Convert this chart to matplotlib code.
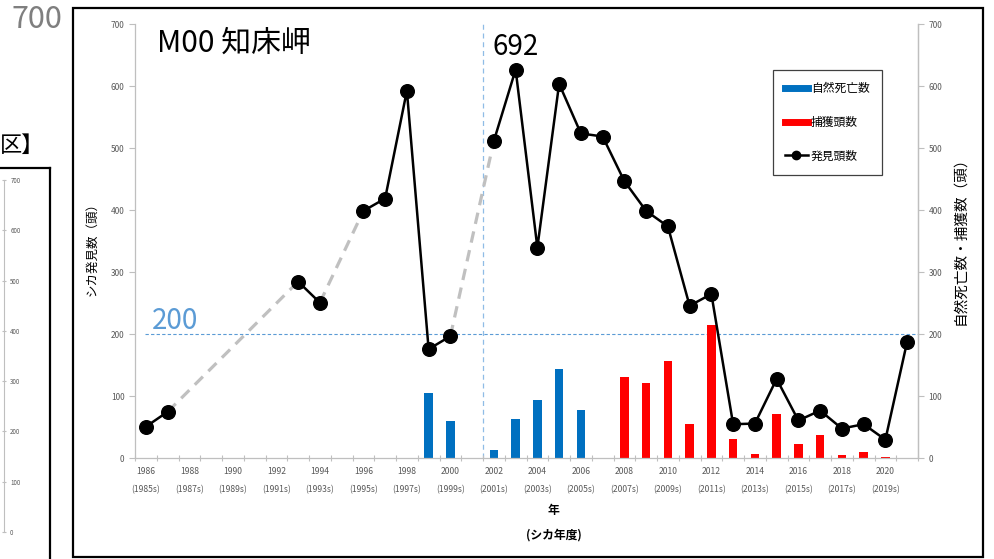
import matplotlib
matplotlib.use('Agg')
import matplotlib.pyplot as plt
import numpy as np
from matplotlib.lines import Line2D
from matplotlib.patches import Rectangle

plt.rcParams['font.family'] = ['Noto Sans CJK JP', 'DejaVu Sans']

# ---------------- data ----------------
years = list(range(1986, 2022))
found = [51, 75, None, None, None, None, None, 285, 251, None,
         399, 419, 593, 176, 197, None, 512, 627, 340, 604,
         524, 519, 447, 399, 374, 246, 265, 55, 56, 128,
         61, 77, 48, 55, 30, 188]
natural_years = [1999, 2000, 2002, 2003, 2004, 2005, 2006]
natural = [105, 60, 13, 63, 94, 144, 78]
capture_years = [2008, 2009, 2010, 2011, 2012, 2013, 2014, 2015, 2016, 2017, 2018, 2019, 2020]
capture = [131, 121, 157, 55, 215, 31, 7, 71, 23, 37, 6, 10, 2]
label_years = list(range(1986, 2021, 2))
tick_labels = [f"{y}\n({y-1}s)" for y in label_years]
yticks = list(range(0, 701, 100))
threshold = 200
peak_label = "692"
peak_year = 2003
title = "M00 知床岬"

W, H = 995, 559
fig = plt.figure(figsize=(W / 100, H / 100), dpi=100)

def fx(px):
    return px / W

def fy(py):
    return 1 - py / H

# ---------------- main axes ----------------
ax = fig.add_axes([fx(135), fy(458.3), fx(918) - fx(135), fy(24.3) - fy(458.3)])
ax.set_xlim(1985.5, 2021.5)
ax.set_ylim(0, 700)

grey = '#595959'
spine_c = '#bfbfbf'
ax.spines['top'].set_visible(False)
for s in ['left', 'right', 'bottom']:
    ax.spines[s].set_color(spine_c)
    ax.spines[s].set_linewidth(0.9)

ax.bar(natural_years, natural, width=0.4, color='#0070c0', zorder=2)
ax.bar(capture_years, capture, width=0.4, color='#ff0000', zorder=2)

# gap connectors
known = [i for i, v in enumerate(found) if v is not None]
for a, b in zip(known[:-1], known[1:]):
    if b - a > 1:
        ax.plot([years[a], years[b]], [found[a], found[b]], color='#c0c0c0',
                lw=2.3, dashes=(3.6, 2.4), zorder=3)

fv = np.array([np.nan if v is None else v for v in found], dtype=float)
ax.plot(years, fv, color='black', lw=1.8, marker='o', markersize=9.8, zorder=4)

ax.axhline(threshold, xmin=0.013, xmax=1, color='#5b9bd5', lw=0.8, ls=(0, (3, 2)), zorder=1)
ax.axvline(2001.5, color='#8fbce6', lw=0.9, ls=(0, (4, 3)), zorder=1)

ax.text(1986.29, 222, str(threshold), color='#5b9bd5', fontsize=20, ha='left', va='center')
ax.text(peak_year, 663, peak_label, color='black', fontsize=20, ha='center', va='center')
ax.text(1986.5, 670, title, color='black', fontsize=21.5, ha='left', va='center')

ax.set_yticks(yticks)
ax.tick_params(axis='y', labelsize=6, labelcolor=grey, color=spine_c, length=4, width=0.8)
ax.set_xticks(label_years)
ax.set_xticklabels(tick_labels, fontsize=6.2, color=grey, linespacing=2.3)
ax.set_xticks(np.arange(1985.5, 2021.6, 1.0), minor=True)
ax.tick_params(axis='x', which='major', length=0, pad=6)
ax.tick_params(axis='x', which='minor', length=5, direction='inout', color=spine_c, width=0.8)

ax.set_ylabel("シカ発見数（頭）", fontsize=9)
ax.yaxis.set_label_coords(-0.047, 0.49)
ax.set_xlabel("年\n(シカ年度)", fontsize=8.5, fontweight='bold', linespacing=2.2)
ax.xaxis.set_label_coords(0.535, -0.105)
ax.xaxis.label.set_va('top')

ax2 = ax.twinx()
ax2.set_ylim(0, 700)
ax2.set_yticks(yticks)
for s in ['top', 'left', 'bottom']:
    ax2.spines[s].set_visible(False)
ax2.spines['right'].set_color(spine_c)
ax2.spines['right'].set_linewidth(0.9)
ax2.tick_params(axis='y', labelsize=6, labelcolor=grey, color=spine_c, length=4, width=0.8)
ax2.set_ylabel("自然死亡数・捕獲数（頭）", fontsize=10.5, rotation=90)
ax2.yaxis.set_label_coords(1.045, 0.51)

handles = [Line2D([], [], color='#0070c0', lw=5),
           Line2D([], [], color='#ff0000', lw=5),
           Line2D([], [], color='black', lw=1.8, marker='o', markersize=6)]
leg = ax.legend(handles, ["自然死亡数", "捕獲頭数", "発見頭数"], loc='upper left',
                bbox_to_anchor=(0.8145, 0.895), borderaxespad=0, fontsize=8.5, labelspacing=1.75,
                handlelength=1.9, handletextpad=0.3, borderpad=1.05, fancybox=False,
                framealpha=1, edgecolor='#404040')
leg.get_frame().set_linewidth(0.9)
leg.set_zorder(10)

# ---------------- slide decorations ----------------
fig.patches.append(Rectangle((fx(73), fy(557)), fx(983) - fx(73), fy(8) - fy(557),
                             transform=fig.transFigure, fill=False, ec='black', lw=1.6))
fig.lines.append(Line2D([0, fx(50)], [fy(168), fy(168)], transform=fig.transFigure, color='black', lw=1.6))
fig.lines.append(Line2D([fx(50), fx(50)], [fy(168), 0], transform=fig.transFigure, color='black', lw=1.6))
fig.text(fx(12), fy(19), "700", color='#7f7f7f', fontsize=22, ha='left', va='center')
fig.text(fx(0), fy(145), "区】", color='black', fontsize=16, ha='left', va='center')

axs = fig.add_axes([fx(3), fy(532), fx(1), fy(180) - fy(532)])
axs.set_ylim(0, 700)
axs.set_xticks([])
for s in ['top', 'left', 'bottom']:
    axs.spines[s].set_visible(False)
axs.spines['right'].set_color(spine_c)
axs.patch.set_visible(False)
axs.yaxis.tick_right()
axs.set_yticks(yticks)
axs.tick_params(axis='y', labelsize=4.5, labelcolor=grey, color=spine_c, length=3, direction='inout', pad=3)

fig.savefig('out.png', dpi=100)
